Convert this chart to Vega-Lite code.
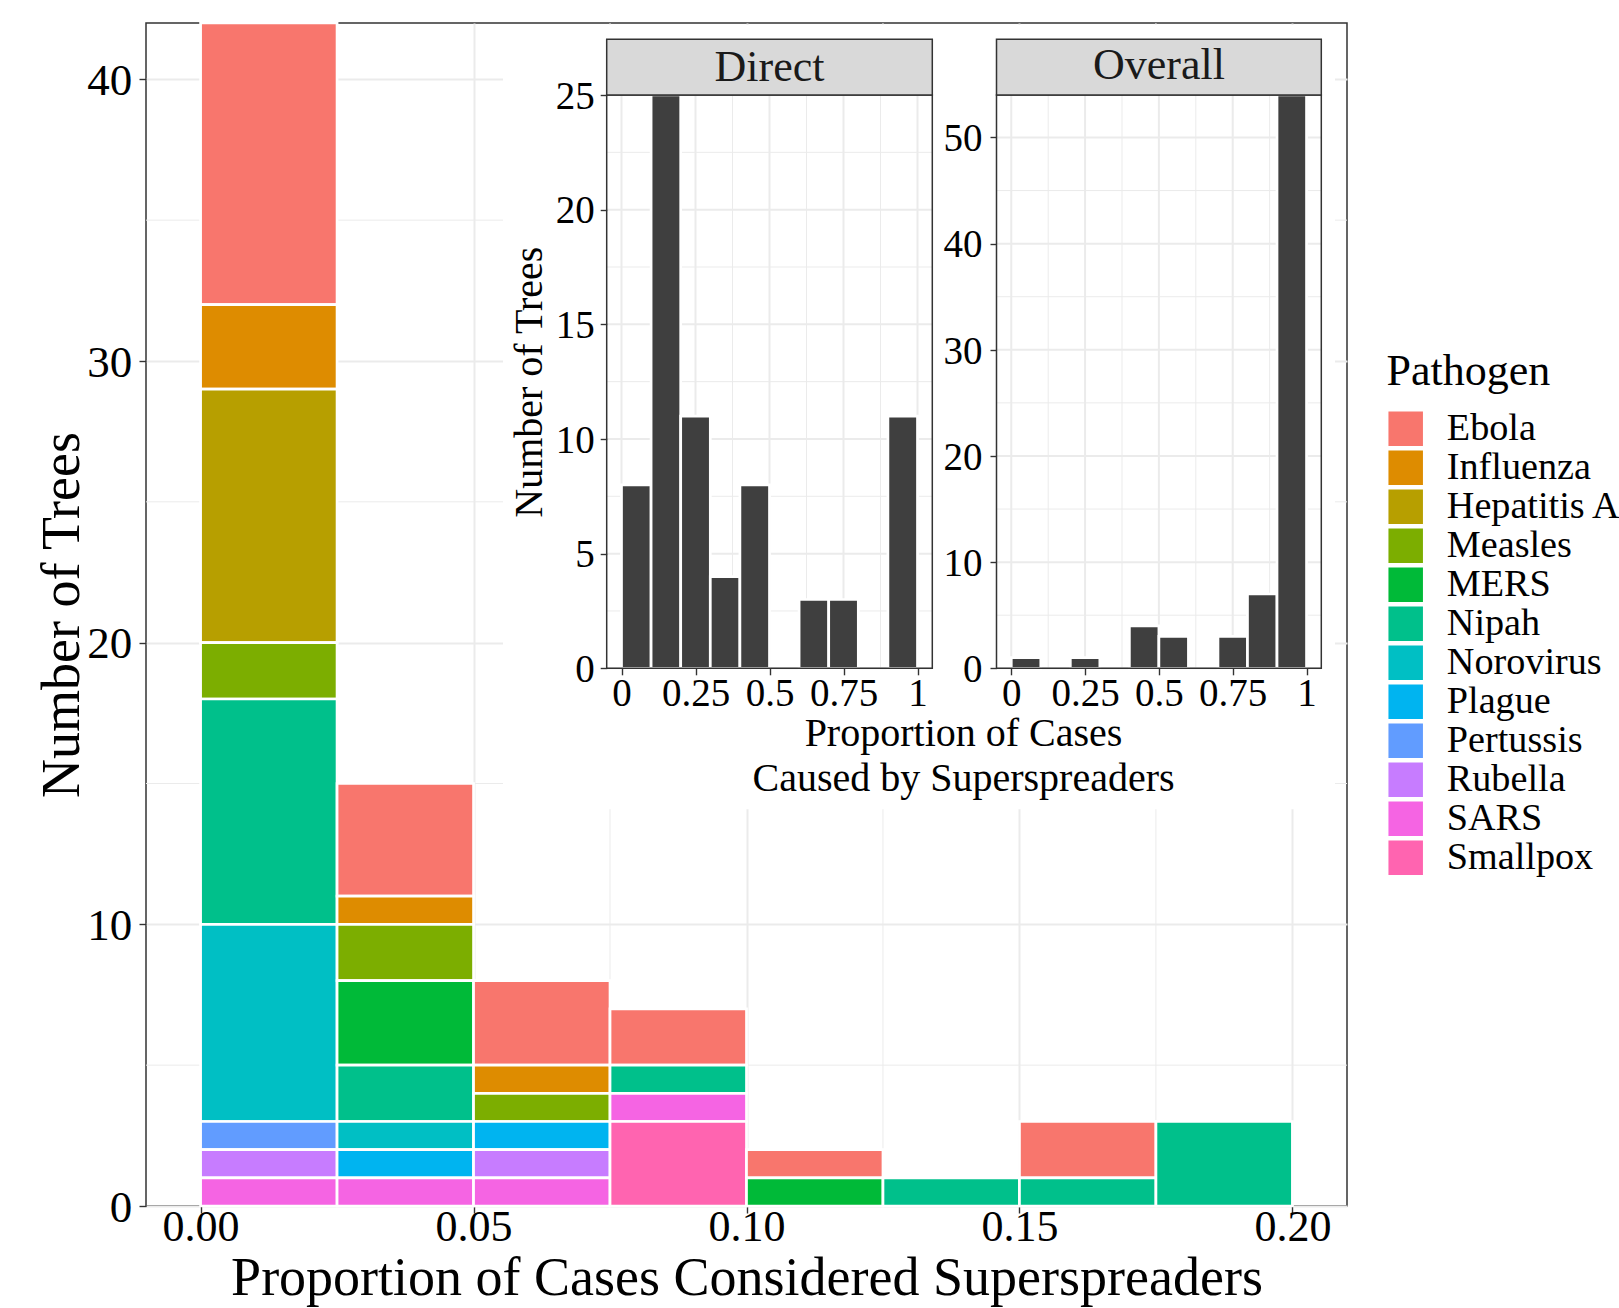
{
  "$schema": "https://vega.github.io/schema/vega-lite/v6.json",
  "width": 1201,
  "height": 1183,
  "autosize": "none",
  "padding": {"left": 146, "top": 23, "right": 272, "bottom": 102},
  "background": "white",
  "config": {
    "font": "Liberation Serif",
    "view": {"stroke": "#333333", "strokeWidth": 1.5},
    "axis": {"labelFont": "Liberation Serif", "titleFont": "Liberation Serif", "labelColor": "#000000", "titleColor": "#000000", "titleFontWeight": "normal", "tickColor": "#333333", "tickWidth": 1.4, "domain": false, "gridColor": "#EBEBEB"},
    "legend": {"labelFont": "Liberation Serif", "titleFont": "Liberation Serif"},
    "text": {"font": "Liberation Serif"}
  },
  "datasets": {
    "main": [
      {"start": 0, "end": 0.025, "Pathogen": "Ebola", "level": 1, "n": 10},
      {"start": 0, "end": 0.025, "Pathogen": "Influenza", "level": 2, "n": 3},
      {"start": 0, "end": 0.025, "Pathogen": "Hepatitis A", "level": 3, "n": 9},
      {"start": 0, "end": 0.025, "Pathogen": "Measles", "level": 4, "n": 2},
      {"start": 0, "end": 0.025, "Pathogen": "Nipah", "level": 6, "n": 8},
      {"start": 0, "end": 0.025, "Pathogen": "Norovirus", "level": 7, "n": 7},
      {"start": 0, "end": 0.025, "Pathogen": "Pertussis", "level": 9, "n": 1},
      {"start": 0, "end": 0.025, "Pathogen": "Rubella", "level": 10, "n": 1},
      {"start": 0, "end": 0.025, "Pathogen": "SARS", "level": 11, "n": 1},
      {"start": 0.025, "end": 0.05, "Pathogen": "Ebola", "level": 1, "n": 4},
      {"start": 0.025, "end": 0.05, "Pathogen": "Influenza", "level": 2, "n": 1},
      {"start": 0.025, "end": 0.05, "Pathogen": "Measles", "level": 4, "n": 2},
      {"start": 0.025, "end": 0.05, "Pathogen": "MERS", "level": 5, "n": 3},
      {"start": 0.025, "end": 0.05, "Pathogen": "Nipah", "level": 6, "n": 2},
      {"start": 0.025, "end": 0.05, "Pathogen": "Norovirus", "level": 7, "n": 1},
      {"start": 0.025, "end": 0.05, "Pathogen": "Plague", "level": 8, "n": 1},
      {"start": 0.025, "end": 0.05, "Pathogen": "SARS", "level": 11, "n": 1},
      {"start": 0.05, "end": 0.075, "Pathogen": "Ebola", "level": 1, "n": 3},
      {"start": 0.05, "end": 0.075, "Pathogen": "Influenza", "level": 2, "n": 1},
      {"start": 0.05, "end": 0.075, "Pathogen": "Measles", "level": 4, "n": 1},
      {"start": 0.05, "end": 0.075, "Pathogen": "Plague", "level": 8, "n": 1},
      {"start": 0.05, "end": 0.075, "Pathogen": "Rubella", "level": 10, "n": 1},
      {"start": 0.05, "end": 0.075, "Pathogen": "SARS", "level": 11, "n": 1},
      {"start": 0.075, "end": 0.1, "Pathogen": "Ebola", "level": 1, "n": 2},
      {"start": 0.075, "end": 0.1, "Pathogen": "Nipah", "level": 6, "n": 1},
      {"start": 0.075, "end": 0.1, "Pathogen": "SARS", "level": 11, "n": 1},
      {"start": 0.075, "end": 0.1, "Pathogen": "Smallpox", "level": 12, "n": 3},
      {"start": 0.1, "end": 0.125, "Pathogen": "Ebola", "level": 1, "n": 1},
      {"start": 0.1, "end": 0.125, "Pathogen": "MERS", "level": 5, "n": 1},
      {"start": 0.125, "end": 0.15, "Pathogen": "Nipah", "level": 6, "n": 1},
      {"start": 0.15, "end": 0.175, "Pathogen": "Ebola", "level": 1, "n": 2},
      {"start": 0.15, "end": 0.175, "Pathogen": "Nipah", "level": 6, "n": 1},
      {"start": 0.175, "end": 0.2, "Pathogen": "Nipah", "level": 6, "n": 3}
    ],
    "direct": [
      {"start": 0, "end": 0.1, "n": 8},
      {"start": 0.1, "end": 0.2, "n": 25},
      {"start": 0.2, "end": 0.3, "n": 11},
      {"start": 0.3, "end": 0.4, "n": 4},
      {"start": 0.4, "end": 0.5, "n": 8},
      {"start": 0.6, "end": 0.7, "n": 3},
      {"start": 0.7, "end": 0.8, "n": 3},
      {"start": 0.9, "end": 1.0, "n": 11}
    ],
    "overall": [
      {"start": 0, "end": 0.1, "n": 1},
      {"start": 0.2, "end": 0.3, "n": 1},
      {"start": 0.4, "end": 0.5, "n": 4},
      {"start": 0.5, "end": 0.6, "n": 3},
      {"start": 0.7, "end": 0.8, "n": 3},
      {"start": 0.8, "end": 0.9, "n": 7},
      {"start": 0.9, "end": 1.0, "n": 54}
    ],
    "mgrid_x": [{"v": 0.025}, {"v": 0.075}, {"v": 0.125}, {"v": 0.175}],
    "mgrid_y": [{"v": 5}, {"v": 15}, {"v": 25}, {"v": 35}],
    "xgrid": [
      {"v": 0, "kind": "major"}, {"v": 0.125, "kind": "minor"}, {"v": 0.25, "kind": "major"},
      {"v": 0.375, "kind": "minor"}, {"v": 0.5, "kind": "major"}, {"v": 0.625, "kind": "minor"},
      {"v": 0.75, "kind": "major"}, {"v": 0.875, "kind": "minor"}, {"v": 1, "kind": "major"}
    ],
    "ygrid_d": [
      {"v": 0, "kind": "major"}, {"v": 2.5, "kind": "minor"}, {"v": 5, "kind": "major"},
      {"v": 7.5, "kind": "minor"}, {"v": 10, "kind": "major"}, {"v": 12.5, "kind": "minor"},
      {"v": 15, "kind": "major"}, {"v": 17.5, "kind": "minor"}, {"v": 20, "kind": "major"},
      {"v": 22.5, "kind": "minor"}, {"v": 25, "kind": "major"}
    ],
    "ygrid_o": [
      {"v": 0, "kind": "major"}, {"v": 5, "kind": "minor"}, {"v": 10, "kind": "major"},
      {"v": 15, "kind": "minor"}, {"v": 20, "kind": "major"}, {"v": 25, "kind": "minor"},
      {"v": 30, "kind": "major"}, {"v": 35, "kind": "minor"}, {"v": 40, "kind": "major"},
      {"v": 45, "kind": "minor"}, {"v": 50, "kind": "major"}
    ]
  },
  "resolve": {"scale": {"x": "independent", "y": "independent"}},
  "layer": [
    {
      "data": {"name": "mgrid_x"},
      "mark": {"type": "rule", "color": "#EBEBEB", "strokeWidth": 1},
      "encoding": {
        "x": {"field": "v", "type": "quantitative", "scale": {"domain": [-0.01, 0.21], "nice": false, "zero": false, "padding": 0}, "axis": null}
      }
    },
    {
      "data": {"name": "mgrid_y"},
      "mark": {"type": "rule", "color": "#EBEBEB", "strokeWidth": 1},
      "encoding": {
        "y": {"field": "v", "type": "quantitative", "scale": {"domain": [0, 42], "nice": false, "zero": false, "padding": 0}, "axis": null}
      }
    },
    {
      "data": {"name": "main"},
      "mark": {"type": "bar", "orient": "vertical", "stroke": "white", "strokeWidth": 2.7},
      "encoding": {
        "x": {
          "field": "start", "type": "quantitative",
          "scale": {"domain": [-0.01, 0.21], "nice": false, "zero": false, "padding": 0},
          "axis": {
            "orient": "bottom",
            "values": [0, 0.05, 0.1, 0.15, 0.2],
            "labelExpr": "format(datum.value, '.2f')",
            "grid": true, "gridWidth": 2, "tickSize": 7, "labelFontSize": 44, "labelBaseline": "alphabetic",
            "labelPadding": 27.7, "labelFlush": false, "labelOverlap": false, "labelBound": false,
            "title": "Proportion of Cases Considered Superspreaders", "titleFontSize": 54,
            "titleBaseline": "alphabetic", "titleX": 600.5, "titleY": 88.7, "titleAlign": "center"
          }
        },
        "x2": {"field": "end"},
        "y": {
          "field": "n", "type": "quantitative", "stack": "zero",
          "scale": {"domain": [0, 42], "nice": false, "zero": false, "padding": 0},
          "axis": {
            "orient": "left",
            "values": [0, 10, 20, 30, 40],
            "labelExpr": "'' + datum.value",
            "grid": true, "gridWidth": 2, "tickSize": 7, "labelFontSize": 45, "labelPadding": 7.3,
            "labelBaseline": "alphabetic", "labelOffset": 15, "labelOverlap": false, "labelBound": false,
            "title": "Number of Trees", "titleFontSize": 54, "titleAngle": 270,
            "titleBaseline": "alphabetic", "titleX": -67.5, "titleY": 591.5, "titleAlign": "center"
          }
        },
        "color": {
          "field": "Pathogen", "type": "nominal",
          "scale": {
            "domain": ["Ebola", "Influenza", "Hepatitis A", "Measles", "MERS", "Nipah", "Norovirus", "Plague", "Pertussis", "Rubella", "SARS", "Smallpox"],
            "range": ["#F8766D", "#DE8C00", "#B79F00", "#7CAE00", "#00BA38", "#00C08B", "#00BFC4", "#00B4F0", "#619CFF", "#C77CFF", "#F564E3", "#FF64B0"]
          },
          "legend": {
            "orient": "none", "legendX": 1240.6, "legendY": 327,
            "title": "Pathogen", "titleFontSize": 44, "titleFontWeight": "normal", "titleColor": "#000000",
            "titleBaseline": "top", "titlePadding": 15.7,
            "labelFontSize": 38.2, "labelColor": "#000000", "labelOffset": 22, "labelLimit": 400,
            "symbolType": "square", "symbolSize": 1190, "symbolStrokeWidth": 0, "symbolOpacity": 1,
            "rowPadding": 0, "padding": 0
          }
        },
        "order": {"field": "level", "type": "quantitative", "sort": "descending"}
      }
    },
    {
      "data": {"values": [{}]},
      "mark": {"type": "rect", "fill": "white"},
      "encoding": {
        "x": {"datum": 0.0554, "type": "quantitative", "scale": {"domain": [-0.01, 0.21], "nice": false, "zero": false, "padding": 0}, "axis": null},
        "x2": {"datum": 0.2078},
        "y": {"datum": 14.09, "type": "quantitative", "scale": {"domain": [0, 42], "nice": false, "zero": false, "padding": 0}, "axis": null},
        "y2": {"datum": 41.93}
      }
    },
    {
      "data": {"name": "xgrid"},
      "mark": {"type": "rule", "color": "#EBEBEB"},
      "encoding": {
        "x": {
          "field": "v", "type": "quantitative",
          "scale": {"domain": [-0.05, 1.05], "range": [460.7, 786.3], "nice": false, "zero": false, "padding": 0},
          "axis": {
            "orient": "bottom", "offset": -537.7, "values": [0, 0.25, 0.5, 0.75, 1],
            "labelExpr": "'' + datum.value",
            "grid": false, "zindex": 1, "tickSize": 6.5, "labelFontSize": 39, "labelBaseline": "alphabetic",
            "labelPadding": 30.2, "labelFlush": false, "labelOverlap": false, "labelBound": false,
            "title": ["Proportion of Cases", "Caused by Superspreaders"], "titleFontSize": 40,
            "titleBaseline": "alphabetic", "titleLineHeight": 45, "titleX": 817, "titleY": 76.7, "titleAlign": "center"
          }
        },
        "y": {
          "datum": 0, "type": "quantitative",
          "scale": {"domain": [0, 25], "range": [645.3, 72], "nice": false, "zero": false, "padding": 0},
          "axis": {
            "orient": "left", "offset": -460.7, "values": [0, 5, 10, 15, 20, 25],
            "labelExpr": "'' + datum.value",
            "grid": false, "zindex": 1, "tickSize": 6.5, "labelFontSize": 39, "labelPadding": 6,
            "labelBaseline": "alphabetic", "labelOffset": 13.2, "labelOverlap": false, "labelBound": false,
            "title": "Number of Trees", "titleFontSize": 40, "titleAngle": 270, "titleBaseline": "alphabetic",
            "titleX": -65.2, "titleY": 358.7, "titleAlign": "center"
          }
        },
        "y2": {"datum": 25},
        "strokeWidth": {"field": "kind", "type": "ordinal", "scale": {"domain": ["major", "minor"], "range": [2, 1]}, "legend": null}
      }
    },
    {
      "data": {"name": "ygrid_d"},
      "mark": {"type": "rule", "color": "#EBEBEB"},
      "encoding": {
        "y": {"field": "v", "type": "quantitative", "scale": {"domain": [0, 25], "range": [645.3, 72], "nice": false, "zero": false, "padding": 0}, "axis": null},
        "x": {"datum": -0.05, "type": "quantitative", "scale": {"domain": [-0.05, 1.05], "range": [460.7, 786.3], "nice": false, "zero": false, "padding": 0}, "axis": null},
        "x2": {"datum": 1.05},
        "strokeWidth": {"field": "kind", "type": "ordinal", "scale": {"domain": ["major", "minor"], "range": [2, 1]}, "legend": null}
      }
    },
    {
      "data": {"name": "direct"},
      "mark": {"type": "bar", "orient": "vertical", "fill": "#3f3f3f", "stroke": "white", "strokeWidth": 2.7},
      "encoding": {
        "x": {"field": "start", "type": "quantitative", "scale": {"domain": [-0.05, 1.05], "range": [460.7, 786.3], "nice": false, "zero": false, "padding": 0}, "axis": null},
        "x2": {"field": "end"},
        "y": {"field": "n", "type": "quantitative", "scale": {"domain": [0, 25], "range": [645.3, 72], "nice": false, "zero": false, "padding": 0}, "axis": null}
      }
    },
    {
      "data": {"values": [{}]},
      "mark": {"type": "rect", "fillOpacity": 0, "stroke": "#333333", "strokeWidth": 1.5},
      "encoding": {
        "x": {"datum": -0.05, "type": "quantitative", "scale": {"domain": [-0.05, 1.05], "range": [460.7, 786.3], "nice": false, "zero": false, "padding": 0}, "axis": null},
        "x2": {"datum": 1.05},
        "y": {"datum": 0, "type": "quantitative", "scale": {"domain": [0, 25], "range": [645.3, 72], "nice": false, "zero": false, "padding": 0}, "axis": null},
        "y2": {"datum": 25}
      }
    },
    {
      "data": {"values": [{}]},
      "mark": {"type": "rect", "fill": "#D9D9D9", "stroke": "#333333", "strokeWidth": 1.5},
      "encoding": {
        "x": {"datum": -0.05, "type": "quantitative", "scale": {"domain": [-0.05, 1.05], "range": [460.7, 786.3], "nice": false, "zero": false, "padding": 0}, "axis": null},
        "x2": {"datum": 1.05},
        "y": {"datum": 25, "type": "quantitative", "scale": {"domain": [0, 25], "range": [645.3, 72], "nice": false, "zero": false, "padding": 0}, "axis": null},
        "y2": {"datum": 27.43}
      }
    },
    {
      "data": {"values": [{"panel": "Direct"}]},
      "mark": {"type": "text", "fontSize": 44, "font": "Liberation Serif", "color": "#1a1a1a", "baseline": "middle", "align": "center"},
      "encoding": {
        "x": {"datum": 0.5, "type": "quantitative", "scale": {"domain": [-0.05, 1.05], "range": [460.7, 786.3], "nice": false, "zero": false, "padding": 0}, "axis": null},
        "y": {"datum": 26.18, "type": "quantitative", "scale": {"domain": [0, 25], "range": [645.3, 72], "nice": false, "zero": false, "padding": 0}, "axis": null},
        "text": {"field": "panel", "type": "nominal"}
      }
    },
    {
      "data": {"name": "xgrid"},
      "mark": {"type": "rule", "color": "#EBEBEB"},
      "encoding": {
        "x": {
          "field": "v", "type": "quantitative",
          "scale": {"domain": [-0.05, 1.05], "range": [850.5, 1175.3], "nice": false, "zero": false, "padding": 0},
          "axis": {
            "orient": "bottom", "offset": -537.7, "values": [0, 0.25, 0.5, 0.75, 1],
            "labelExpr": "'' + datum.value",
            "grid": false, "zindex": 1, "tickSize": 6.5, "labelFontSize": 39, "labelBaseline": "alphabetic",
            "labelPadding": 30.2, "labelFlush": false, "labelOverlap": false, "labelBound": false,
            "title": null
          }
        },
        "y": {
          "datum": 0, "type": "quantitative",
          "scale": {"domain": [0, 54], "range": [645.3, 72], "nice": false, "zero": false, "padding": 0},
          "axis": {
            "orient": "left", "offset": -850.5, "values": [0, 10, 20, 30, 40, 50],
            "labelExpr": "'' + datum.value",
            "grid": false, "zindex": 1, "tickSize": 6.5, "labelFontSize": 39, "labelPadding": 8,
            "labelBaseline": "alphabetic", "labelOffset": 13.2, "labelOverlap": false, "labelBound": false,
            "title": null
          }
        },
        "y2": {"datum": 54},
        "strokeWidth": {"field": "kind", "type": "ordinal", "scale": {"domain": ["major", "minor"], "range": [2, 1]}, "legend": null}
      }
    },
    {
      "data": {"name": "ygrid_o"},
      "mark": {"type": "rule", "color": "#EBEBEB"},
      "encoding": {
        "y": {"field": "v", "type": "quantitative", "scale": {"domain": [0, 54], "range": [645.3, 72], "nice": false, "zero": false, "padding": 0}, "axis": null},
        "x": {"datum": -0.05, "type": "quantitative", "scale": {"domain": [-0.05, 1.05], "range": [850.5, 1175.3], "nice": false, "zero": false, "padding": 0}, "axis": null},
        "x2": {"datum": 1.05},
        "strokeWidth": {"field": "kind", "type": "ordinal", "scale": {"domain": ["major", "minor"], "range": [2, 1]}, "legend": null}
      }
    },
    {
      "data": {"name": "overall"},
      "mark": {"type": "bar", "orient": "vertical", "fill": "#3f3f3f", "stroke": "white", "strokeWidth": 2.7},
      "encoding": {
        "x": {"field": "start", "type": "quantitative", "scale": {"domain": [-0.05, 1.05], "range": [850.5, 1175.3], "nice": false, "zero": false, "padding": 0}, "axis": null},
        "x2": {"field": "end"},
        "y": {"field": "n", "type": "quantitative", "scale": {"domain": [0, 54], "range": [645.3, 72], "nice": false, "zero": false, "padding": 0}, "axis": null}
      }
    },
    {
      "data": {"values": [{}]},
      "mark": {"type": "rect", "fillOpacity": 0, "stroke": "#333333", "strokeWidth": 1.5},
      "encoding": {
        "x": {"datum": -0.05, "type": "quantitative", "scale": {"domain": [-0.05, 1.05], "range": [850.5, 1175.3], "nice": false, "zero": false, "padding": 0}, "axis": null},
        "x2": {"datum": 1.05},
        "y": {"datum": 0, "type": "quantitative", "scale": {"domain": [0, 54], "range": [645.3, 72], "nice": false, "zero": false, "padding": 0}, "axis": null},
        "y2": {"datum": 54}
      }
    },
    {
      "data": {"values": [{}]},
      "mark": {"type": "rect", "fill": "#D9D9D9", "stroke": "#333333", "strokeWidth": 1.5},
      "encoding": {
        "x": {"datum": -0.05, "type": "quantitative", "scale": {"domain": [-0.05, 1.05], "range": [850.5, 1175.3], "nice": false, "zero": false, "padding": 0}, "axis": null},
        "x2": {"datum": 1.05},
        "y": {"datum": 54, "type": "quantitative", "scale": {"domain": [0, 54], "range": [645.3, 72], "nice": false, "zero": false, "padding": 0}, "axis": null},
        "y2": {"datum": 59.24}
      }
    },
    {
      "data": {"values": [{"panel": "Overall"}]},
      "mark": {"type": "text", "fontSize": 44, "font": "Liberation Serif", "color": "#1a1a1a", "baseline": "middle", "align": "center"},
      "encoding": {
        "x": {"datum": 0.5, "type": "quantitative", "scale": {"domain": [-0.05, 1.05], "range": [850.5, 1175.3], "nice": false, "zero": false, "padding": 0}, "axis": null},
        "y": {"datum": 56.69, "type": "quantitative", "scale": {"domain": [0, 54], "range": [645.3, 72], "nice": false, "zero": false, "padding": 0}, "axis": null},
        "text": {"field": "panel", "type": "nominal"}
      }
    }
  ]
}
